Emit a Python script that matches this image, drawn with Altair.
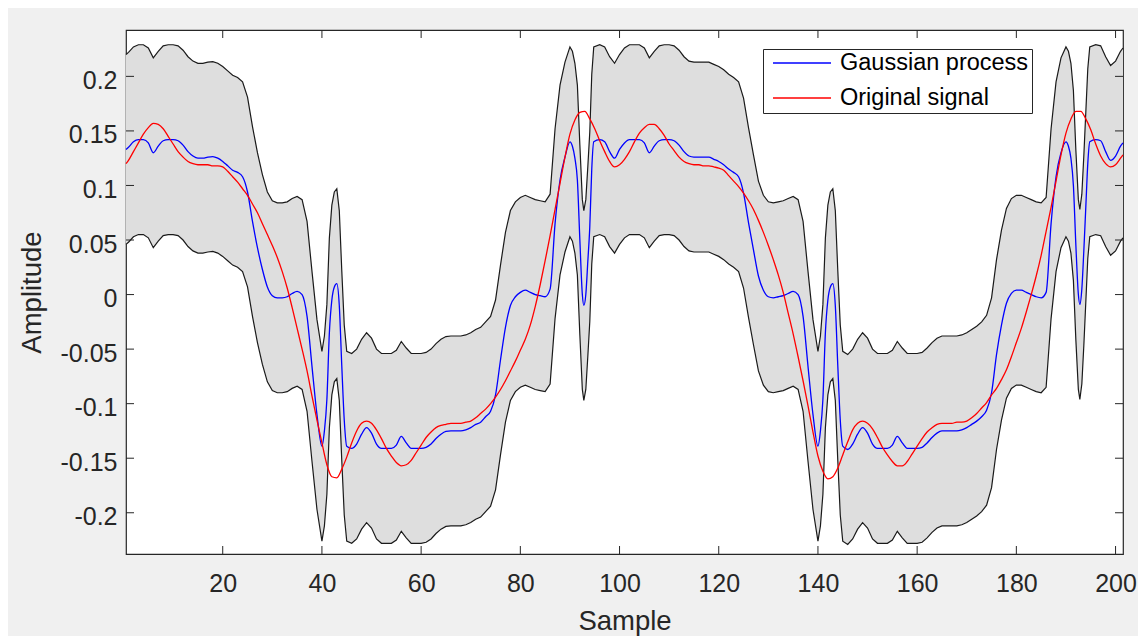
import altair as alt
import pandas as pd

# ---------------- data ----------------
gp_x = [
    0.5, 1, 2, 3, 4, 5, 6, 7, 8, 9, 10,
    11, 12, 13, 14, 15, 16, 17, 18, 19, 20,
    21, 22, 23, 24, 25, 26, 27, 28, 29, 30,
    31, 32, 33, 34, 35, 36, 37, 38, 39, 40,
    40.5, 41, 41.5, 42, 42.5, 43, 43.5, 44, 44.5, 45,
    46, 47, 48, 49, 50, 51, 52, 53, 54, 55,
    56, 57, 58, 59, 60, 61, 62, 63, 64, 65,
    66, 67, 68, 69, 70, 71, 72, 73, 74, 75,
    76, 77, 78, 79, 80, 81, 82, 83, 84, 85,
    86, 87, 88, 89, 90, 90.5, 91, 91.5, 92, 92.5,
    92.8, 93.2, 93.6, 94, 94.4, 94.8, 96, 97, 98, 99,
    100, 101, 102, 103, 104, 105, 106, 107, 108, 109, 110,
    111, 112, 113, 114, 115, 116, 117, 118, 119, 120,
    121, 122, 123, 124, 125, 126, 127, 128, 129, 130,
    131, 132, 133, 134, 135, 136, 137, 138, 139, 140,
    140.5, 141, 141.5, 142, 142.5, 143, 143.5, 144, 144.5, 145,
    146, 147, 148, 149, 150, 151, 152, 153, 154, 155,
    156, 157, 158, 159, 160, 161, 162, 163, 164, 165,
    166, 167, 168, 169, 170, 171, 172, 173, 174, 175,
    176, 177, 178, 179, 180, 181, 182, 183, 184, 185,
    186, 187, 188, 189, 190, 190.5, 191, 191.5, 192, 192.5,
    192.8, 193.2, 193.6, 194, 194.4, 194.8, 196, 197, 198, 199,
    200, 201, 201.5,
]
gp_mean = [
    0.133, 0.135, 0.140, 0.142, 0.142, 0.139, 0.130, 0.136, 0.141, 0.142, 0.142,
    0.141, 0.137, 0.131, 0.127, 0.125, 0.125, 0.126, 0.1265, 0.125, 0.122,
    0.118, 0.114, 0.112, 0.108, 0.094, 0.067, 0.043, 0.023, 0.007, -0.001,
    -0.003, -0.003, -0.002, 0.001, 0.003, 0.000, -0.020, -0.066, -0.110, -0.139,
    -0.125, -0.096, -0.035, -0.005, 0.007, 0.010, -0.010, -0.065, -0.115, -0.139,
    -0.141, -0.137, -0.128, -0.122, -0.127, -0.137, -0.141, -0.141, -0.141, -0.138,
    -0.130, -0.136, -0.141, -0.141, -0.141, -0.140, -0.137, -0.132, -0.128, -0.1255,
    -0.125, -0.125, -0.125, -0.124, -0.122, -0.119, -0.117, -0.112, -0.107, -0.092,
    -0.060, -0.030, -0.010, -0.002, 0.002, 0.004, 0.002, 0.000, -0.001, -0.002,
    0.005, 0.065, 0.105, 0.126, 0.140, 0.136, 0.125, 0.105, 0.050, 0.000,
    -0.010, 0.000, 0.030, 0.062, 0.115, 0.140, 0.142, 0.140, 0.131, 0.125,
    0.133, 0.139, 0.142, 0.142, 0.142, 0.139, 0.130, 0.136, 0.141, 0.142, 0.142,
    0.141, 0.137, 0.131, 0.127, 0.126, 0.126, 0.126, 0.126, 0.124, 0.122,
    0.119, 0.115, 0.112, 0.108, 0.093, 0.066, 0.041, 0.017, 0.004, -0.002,
    -0.003, -0.002, -0.001, 0.001, 0.003, 0.000, -0.020, -0.066, -0.110, -0.139,
    -0.125, -0.096, -0.035, -0.005, 0.007, 0.010, -0.010, -0.065, -0.115, -0.139,
    -0.142, -0.137, -0.128, -0.122, -0.127, -0.137, -0.141, -0.141, -0.141, -0.138,
    -0.130, -0.136, -0.141, -0.141, -0.141, -0.140, -0.136, -0.131, -0.127, -0.125,
    -0.125, -0.125, -0.125, -0.124, -0.122, -0.119, -0.116, -0.112, -0.106, -0.090,
    -0.055, -0.028, -0.008, 0.001, 0.004, 0.004, 0.002, 0.000, -0.002, -0.003,
    0.002, 0.065, 0.108, 0.130, 0.140, 0.136, 0.125, 0.100, 0.045, 0.000,
    -0.009, 0.005, 0.040, 0.080, 0.120, 0.140, 0.142, 0.141, 0.131, 0.123,
    0.127, 0.136, 0.139,
]
gp_band_half = 0.087  # half width of the shaded confidence band

sig_x = [0.5] + list(range(1, 202)) + [201.5]
sig_val = [
    0.120,
    0.123, 0.131, 0.139, 0.147, 0.153, 0.157, 0.156, 0.152, 0.145, 0.138,
    0.131, 0.126, 0.122, 0.120, 0.119, 0.119, 0.119, 0.118, 0.118, 0.117,
    0.113, 0.108, 0.103, 0.097, 0.091, 0.083, 0.075, 0.065, 0.055, 0.045,
    0.034, 0.021, 0.006, -0.012, -0.031, -0.050, -0.070, -0.093, -0.115, -0.136,
    -0.156, -0.167, -0.168, -0.160, -0.149, -0.136, -0.125, -0.118, -0.116, -0.118,
    -0.124, -0.132, -0.141, -0.148, -0.154, -0.157, -0.156, -0.152, -0.145, -0.138,
    -0.131, -0.126, -0.122, -0.120, -0.119, -0.118, -0.118, -0.118, -0.117, -0.116,
    -0.113, -0.109, -0.105, -0.100, -0.094, -0.087, -0.079, -0.070, -0.061, -0.051,
    -0.041, -0.028, -0.011, 0.009, 0.031, 0.054, 0.078, 0.102, 0.126, 0.147,
    0.160, 0.167, 0.168, 0.161, 0.152, 0.141, 0.131, 0.122, 0.117, 0.119,
    0.124, 0.131, 0.140, 0.148, 0.153, 0.156, 0.156, 0.152, 0.146, 0.138,
    0.132, 0.126, 0.122, 0.120, 0.119, 0.119, 0.118, 0.118, 0.117, 0.116,
    0.114, 0.109, 0.104, 0.099, 0.093, 0.086, 0.078, 0.068, 0.057, 0.045,
    0.032, 0.018, 0.002, -0.017, -0.036, -0.057, -0.079, -0.102, -0.126, -0.148,
    -0.162, -0.169, -0.167, -0.159, -0.147, -0.135, -0.124, -0.118, -0.116, -0.118,
    -0.123, -0.131, -0.140, -0.147, -0.153, -0.157, -0.157, -0.153, -0.146, -0.139,
    -0.132, -0.126, -0.122, -0.119, -0.118, -0.118, -0.118, -0.117, -0.117, -0.116,
    -0.113, -0.109, -0.104, -0.099, -0.092, -0.086, -0.078, -0.069, -0.057, -0.044,
    -0.031, -0.016, 0.000, 0.017, 0.036, 0.058, 0.080, 0.104, 0.128, 0.148,
    0.161, 0.168, 0.168, 0.161, 0.151, 0.138, 0.127, 0.120, 0.117, 0.119,
    0.125, 0.128,
]

x_ticks = [20, 40, 60, 80, 100, 120, 140, 160, 180, 200]
y_ticks = [-0.2, -0.15, -0.1, -0.05, 0, 0.05, 0.1, 0.15, 0.2]
series_names = ["Gaussian process", "Original signal"]
series_colors = ["#0000ff", "#ff0000"]

assert len(gp_x) == len(gp_mean), (len(gp_x), len(gp_mean))
assert len(sig_x) == len(sig_val), (len(sig_x), len(sig_val))

# ---------------- tables ----------------
band = pd.DataFrame({
    "sample": gp_x,
    "lo": [m - gp_band_half for m in gp_mean],
    "hi": [m + gp_band_half for m in gp_mean],
})
lines = pd.concat([
    pd.DataFrame({"sample": gp_x, "value": gp_mean, "series": series_names[0]}),
    pd.DataFrame({"sample": sig_x, "value": sig_val, "series": series_names[1]}),
], ignore_index=True)
tx = pd.DataFrame({"t": x_ticks})
ty = pd.DataFrame({"t": y_ticks})

W, H = 997, 524
FONT = "Liberation Sans, Arial, Helvetica, sans-serif"
AX = "#262626"

xs = alt.Scale(domain=[0.5, 201.5], nice=False, zero=False)
ys = alt.Scale(domain=[-0.2378, 0.2425], nice=False, zero=False)

x_axis = alt.Axis(
    values=x_ticks, title="Sample", ticks=False, tickSize=0, domain=False, grid=False,
    labelPadding=17, labelFontSize=25, labelColor=AX, labelFont=FONT,
    labelOverlap=False, labelFlush=False,
    titleFontSize=27.5, titleFont=FONT, titleColor=AX, titleFontWeight="normal",
    titleBaseline="alphabetic", titleY=75.5,
)
y_axis = alt.Axis(
    values=y_ticks, title="Amplitude", ticks=False, tickSize=0, domain=False, grid=False,
    labelPadding=9, labelOffset=4, labelFontSize=25, labelColor=AX, labelFont=FONT,
    labelOverlap=False, labelFlush=False,
    labelExpr="replace(format(datum.value, '.2~f'), '\u2212', '-')",
    titleFontSize=27.5, titleFont=FONT, titleColor=AX, titleFontWeight="normal",
    titleAngle=270, titleBaseline="alphabetic", titleAlign="center",
    titleX=-86, titleY=H / 2,
)

X = lambda f: alt.X(f, scale=xs, axis=x_axis)
Y = lambda f: alt.Y(f, scale=ys, axis=y_axis)

area = alt.Chart(band).mark_area(color="#dedede", opacity=1).encode(
    x=X("sample:Q"), y=Y("lo:Q"), y2="hi:Q",
)
upper = alt.Chart(band).mark_line(color="#1a1a1a", strokeWidth=1.2).encode(
    x=X("sample:Q"), y=Y("hi:Q")
)
lower = alt.Chart(band).mark_line(color="#1a1a1a", strokeWidth=1.2).encode(
    x=X("sample:Q"), y=Y("lo:Q")
)
curves = alt.Chart(lines).mark_line(strokeWidth=1.3, interpolate="monotone").encode(
    x=X("sample:Q"),
    y=Y("value:Q"),
    color=alt.Color(
        "series:N",
        scale=alt.Scale(domain=series_names, range=series_colors),
        sort=series_names,
        legend=alt.Legend(
            title=None, orient="none", legendX=637, legendY=19,
            fillColor="white", strokeColor=AX, padding=3,
            symbolType="stroke", symbolSize=3364, symbolStrokeWidth=1.3,
            symbolOffset=6, labelOffset=8, clipHeight=22, rowPadding=11,
            labelFontSize=23.5, labelFont=FONT, labelColor="#000000", labelLimit=400,
        ),
    ),
    order=alt.Order("sample:Q"),
)

tick_style = dict(color=AX, strokeWidth=1)
tick_bottom = alt.Chart(tx).mark_rule(**tick_style).encode(
    x=X("t:Q"), y=alt.value(H), y2=alt.value(H - 8)
)
tick_top = alt.Chart(tx).mark_rule(**tick_style).encode(
    x=X("t:Q"), y=alt.value(0), y2=alt.value(8)
)
tick_left = alt.Chart(ty).mark_rule(**tick_style).encode(
    y=Y("t:Q"), x=alt.value(0), x2=alt.value(8)
)
tick_right = alt.Chart(ty).mark_rule(**tick_style).encode(
    y=Y("t:Q"), x=alt.value(W - 8), x2=alt.value(W)
)

chart = alt.layer(
    area, upper, lower, curves, tick_bottom, tick_top, tick_left, tick_right
).properties(
    width=W, height=H,
    autosize=alt.AutoSizeParams(type="none"),
    padding={"left": 118, "top": 22, "right": 15, "bottom": 82},
    background="#f0f0f0",
).configure_view(
    stroke=AX, strokeWidth=1.2, fill="white"
)

chart.save("out.html", embed_options={"renderer": "svg", "actions": False})
